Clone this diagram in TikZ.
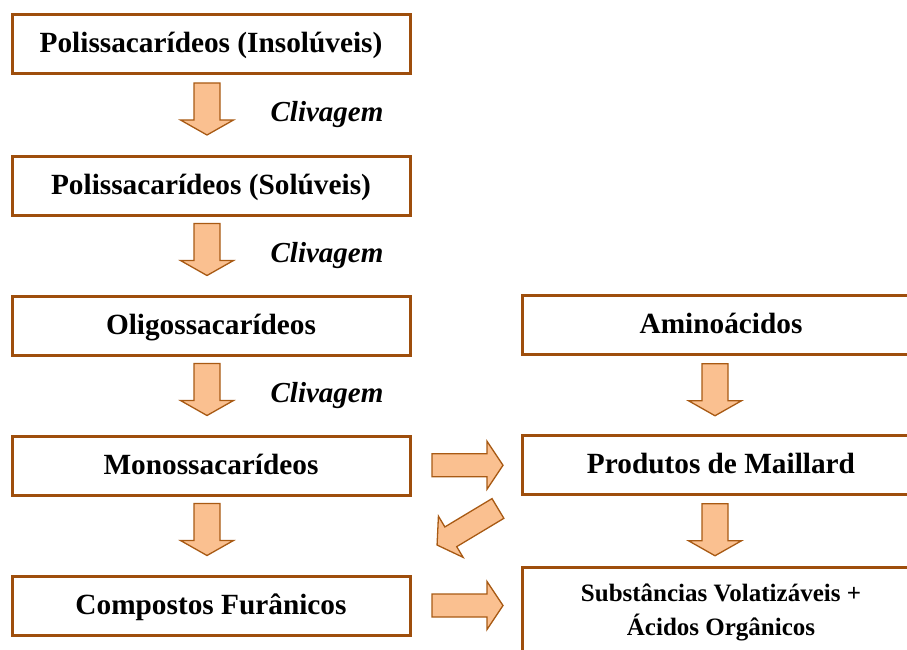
\documentclass[tikz,border=0pt]{standalone}
\usepackage{fontspec}
\setmainfont{Liberation Serif}
\usetikzlibrary{calc}
\definecolor{boxbrown}{HTML}{9E4E0C}
\definecolor{arrowfill}{HTML}{FAC090}
\definecolor{arrowedge}{HTML}{A85A14}
\begin{document}
\begin{tikzpicture}[x=1pt,y=-1pt,
  stagebox/.style={draw=boxbrown, line width=3pt, minimum width=398pt, minimum height=59pt, inner sep=0pt,
    text height=22pt, text depth=5pt,
    font=\fontsize{29.3}{35}\selectfont\bfseries},
  tallbox/.style={draw=boxbrown, line width=3pt, minimum width=398pt, minimum height=90pt, inner sep=0pt,
    align=center, font=\fontsize{25}{34}\selectfont\bfseries},
  blockarrow/.style={fill=arrowfill, draw=arrowedge, line width=1.3pt, line join=miter},
  cliv/.style={font=\fontsize{29}{35}\selectfont\bfseries\itshape, anchor=base, inner sep=0pt},
  downarrow/.pic={\path[blockarrow] (-13,-26) -- (13,-26) -- (13,11) -- (26.5,11) -- (0,26) -- (-26.5,11) -- (-13,11) -- cycle;},
  rightarrow/.pic={\path[blockarrow] (-35.5,-11.5) -- (19.5,-11.5) -- (19.5,-24) -- (35.5,0) -- (19.5,24) -- (19.5,11.5) -- (-35.5,11.5) -- cycle;}
]
\useasboundingbox (0,0) rectangle (907,650);
\clip (0,0) rectangle (907,650);

% left column
\node[stagebox] (poliins) at (211,44.5) {Polissacarídeos (Insolúveis)};
\node[stagebox] (polisol) at (211,185.5) {Polissacarídeos (Solúveis)};
\node[stagebox] (oligo) at (211,325.5) {Oligossacarídeos};
\node[stagebox] (mono) at (211,465.5) {Monossacarídeos};
\node[stagebox] (furan) at (211,605.5) {Compostos Furânicos};
% right column
\node[stagebox] (amino) at (721,324.5) {Aminoácidos};
\node[stagebox] (maillard) at (721,465) {Produtos de Maillard};
\node[tallbox] (volat) at (721,612) {Substâncias Volatizáveis +\\Ácidos Orgânicos};

% arrow positions
\coordinate (a1) at ($(poliins.south)!0.5!(polisol.north)+(-4,-6)$);
\coordinate (a2) at ($(polisol.south)!0.5!(oligo.north)+(-4,-6)$);
\coordinate (a3) at ($(oligo.south)!0.5!(mono.north)+(-4,-6)$);
\coordinate (a4) at ($(mono.south)!0.5!(furan.north)+(-4,-6)$);
\coordinate (a5) at ($(amino.south)!0.5!(maillard.north)+(-6,-5)$);
\coordinate (a6) at ($(maillard.south)!0.5!(volat.north)+(-6,-1)$);
\coordinate (r1) at ($(mono.east)!0.5!(maillard.west)+(1.5,0)$);
\coordinate (r2) at ($(furan.east)!0.5!(volat.west |- furan.east)+(1.5,0)$);
\coordinate (d1) at ($(maillard.south west)!0.5!(furan.north east)+(1.5,-8.5)$);

\pic at (a1) {downarrow};
\pic at (a2) {downarrow};
\pic at (a3) {downarrow};
\pic at (a4) {downarrow};
\pic at (a5) {downarrow};
\pic at (a6) {downarrow};
\pic at (r1) {rightarrow};
\pic at (r2) {rightarrow};
\pic[rotate=211] at (d1) {rightarrow};

\node[cliv] (c1) at ($(a1)+(120,13)$) {Clivagem};
\node[cliv] (c2) at ($(a2)+(120,13)$) {Clivagem};
\node[cliv] (c3) at ($(a3)+(120,13)$) {Clivagem};
\end{tikzpicture}
\end{document}
